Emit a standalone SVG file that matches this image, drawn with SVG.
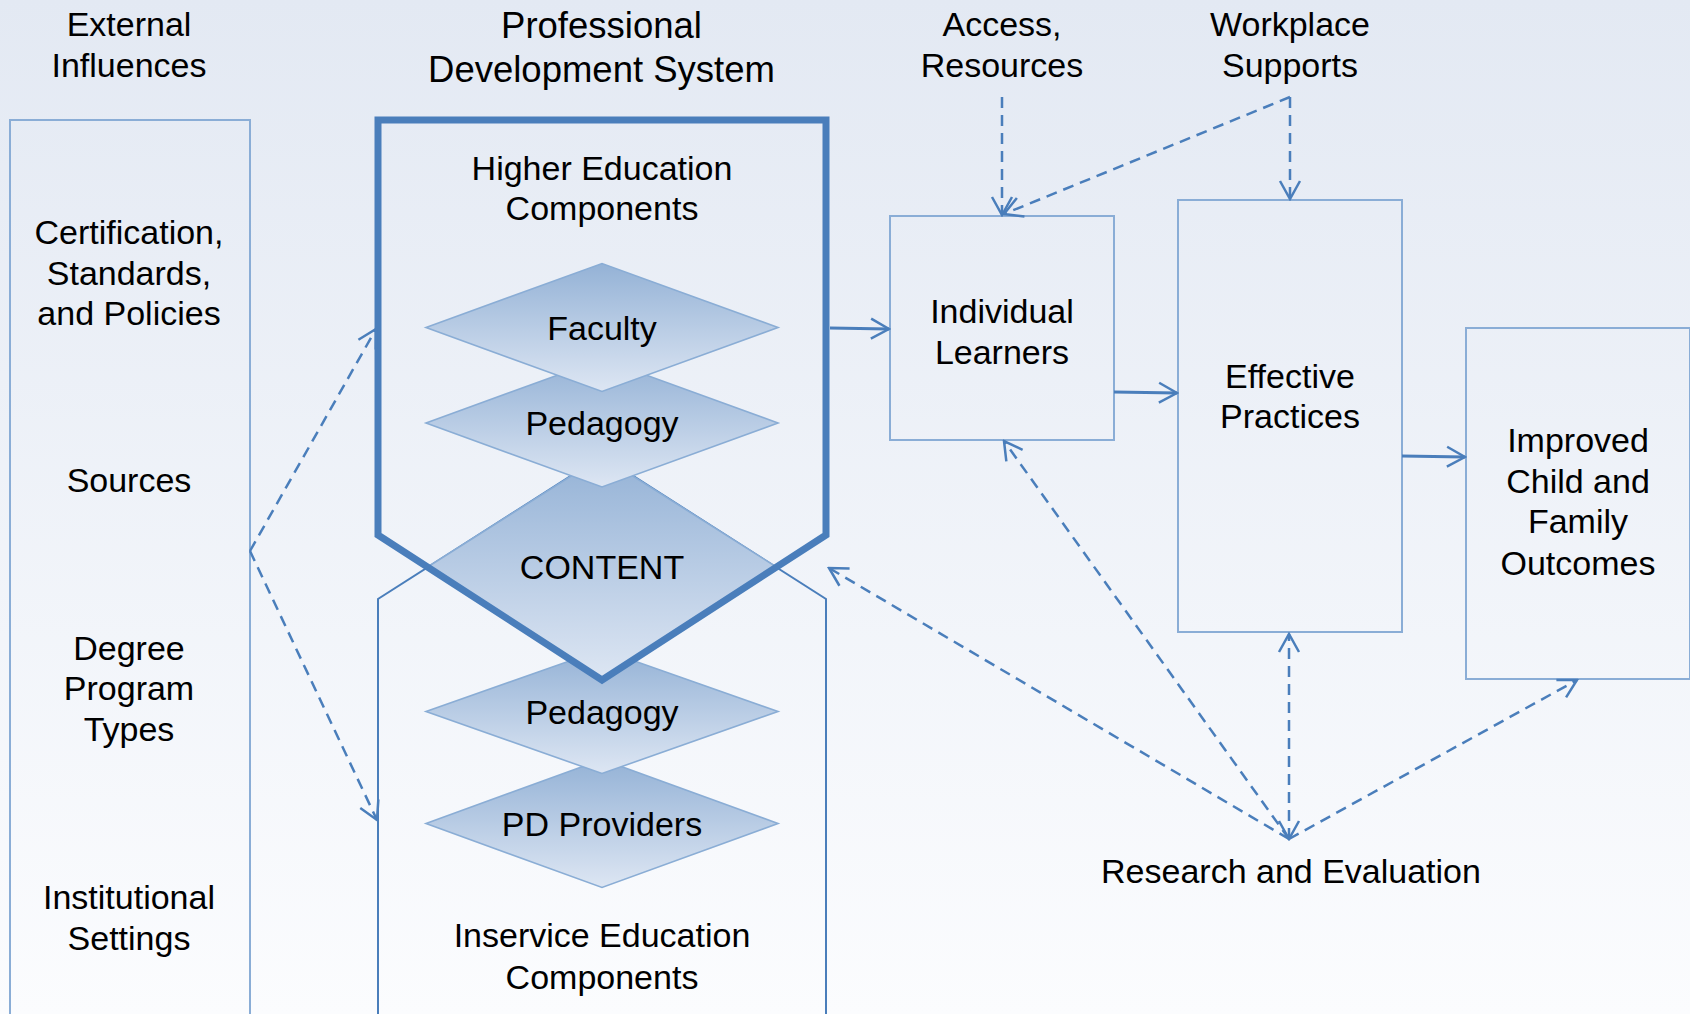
<svg xmlns="http://www.w3.org/2000/svg" width="1690" height="1014" viewBox="0 0 1690 1014">
<defs>
  <linearGradient id="bg" x1="0" y1="0" x2="0" y2="1">
    <stop offset="0" stop-color="#e3e9f3"/>
    <stop offset="1" stop-color="#fbfcfe"/>
  </linearGradient>
  <linearGradient id="dia" x1="0" y1="0" x2="0" y2="1">
    <stop offset="0" stop-color="#94b2d6"/>
    <stop offset="1" stop-color="#dde6f3"/>
  </linearGradient>
  <marker id="ah" markerUnits="userSpaceOnUse" viewBox="-22 -12 24 24" refX="0" refY="0" markerWidth="24" markerHeight="24" orient="auto-start-reverse">
    <path d="M-18,-10 L0,0 L-18,10" fill="none" stroke="#4a7ebb" stroke-width="2.5"/>
  </marker>
</defs>
<style>
  text{font-family:"Liberation Sans",Arial,sans-serif;font-size:34px;fill:#000;text-anchor:middle}
  .title{font-size:36.5px}
  .box{fill:none;stroke:#8aadd6;stroke-width:2}
  .dia{fill:url(#dia);stroke:#8aadd5;stroke-width:1.6}
  .solid{fill:none;stroke:#4a7ebb;stroke-width:2.8;marker-end:url(#ah)}
  .dash{fill:none;stroke:#4a7ebb;stroke-width:2.5;stroke-dasharray:11 7;marker-end:url(#ah)}
</style>

<rect x="0" y="0" width="1690" height="1014" fill="url(#bg)"/>

<g id="external-influences">
  <text x="129" y="36">External</text>
  <text x="129" y="77">Influences</text>
  <path class="box" d="M10,1020 V120 H250 V1020"/>
  <text x="129" y="244">Certification,</text>
  <text x="129" y="285">Standards,</text>
  <text x="129" y="325">and Policies</text>
  <text x="129" y="492">Sources</text>
  <text x="129" y="660">Degree</text>
  <text x="129" y="700">Program</text>
  <text x="129" y="741">Types</text>
  <text x="129" y="909">Institutional</text>
  <text x="129" y="950">Settings</text>
</g>

<g id="pds-title">
  <text class="title" x="601.5" y="37.5">Professional</text>
  <text class="title" x="601.5" y="82">Development System</text>
</g>

<g id="inservice">
  <path d="M378,1020 V599 L602,456 L826,599 V1020" fill="none" stroke="#4a7ebb" stroke-width="2"/>
  <text x="602" y="947">Inservice Education</text>
  <text x="602" y="989">Components</text>
</g>

<g id="pd-providers">
  <polygon class="dia" points="426,823.5 602,759.5 778,823.5 602,887.5"/>
  <text x="602" y="835.5">PD Providers</text>
</g>
<g id="pedagogy-inservice">
  <polygon class="dia" points="426,711.5 602,649.5 778,711.5 602,773.5"/>
  <text x="602" y="723.5">Pedagogy</text>
</g>
<g id="content">
  <polygon class="dia" points="426,568 602,456.5 778,568 602,679.5"/>
  <text x="602" y="579">CONTENT</text>
</g>
<g id="pedagogy-higher">
  <polygon class="dia" points="426,423 602,359 778,423 602,487"/>
  <text x="602" y="435">Pedagogy</text>
</g>
<g id="faculty">
  <polygon class="dia" points="426,327.5 602,263.5 778,327.5 602,391.5"/>
  <text x="602" y="339.5">Faculty</text>
</g>

<g id="higher-education">
  <path d="M378,535 V120 H826 V535 L602,680 Z" fill="none" stroke="#4a7ebb" stroke-width="7" stroke-linejoin="miter"/>
  <text x="602" y="180">Higher Education</text>
  <text x="602" y="220">Components</text>
</g>

<g id="access-resources">
  <text x="1002" y="36">Access,</text>
  <text x="1002" y="77">Resources</text>
</g>
<g id="workplace-supports">
  <text x="1290" y="36">Workplace</text>
  <text x="1290" y="77">Supports</text>
</g>

<g id="individual-learners">
  <rect class="box" x="890" y="216" width="224" height="224"/>
  <text x="1002" y="323">Individual</text>
  <text x="1002" y="364">Learners</text>
</g>
<g id="effective-practices">
  <rect class="box" x="1178" y="200" width="224" height="432"/>
  <text x="1290" y="388">Effective</text>
  <text x="1290" y="428">Practices</text>
</g>
<g id="improved-outcomes">
  <rect class="box" x="1466" y="328" width="224" height="351"/>
  <text x="1578" y="452">Improved</text>
  <text x="1578" y="493">Child and</text>
  <text x="1578" y="533">Family</text>
  <text x="1578" y="575">Outcomes</text>
</g>
<g id="research-evaluation">
  <text x="1291" y="883">Research and Evaluation</text>
</g>

<g id="connectors">
  <path class="solid" d="M830,328 L889,329"/>
  <path class="solid" d="M1114,392 L1177,393"/>
  <path class="solid" d="M1402,456 L1465,457"/>
  <path class="dash" d="M250,551 L376,329"/>
  <path class="dash" d="M250,551 L377,820"/>
  <path class="dash" d="M1002,97 L1002,215"/>
  <path class="dash" d="M1290,97 L1004,214"/>
  <path class="dash" d="M1290,97 L1290,199"/>
  <path class="dash" d="M1289,839 L1004,441"/>
  <path class="dash" d="M1289,839 L829,568"/>
  <path class="dash" d="M1289,839 L1289,634" style="marker-start:url(#ah)"/>
  <path class="dash" d="M1289,839 L1577,680"/>
</g>
</svg>
